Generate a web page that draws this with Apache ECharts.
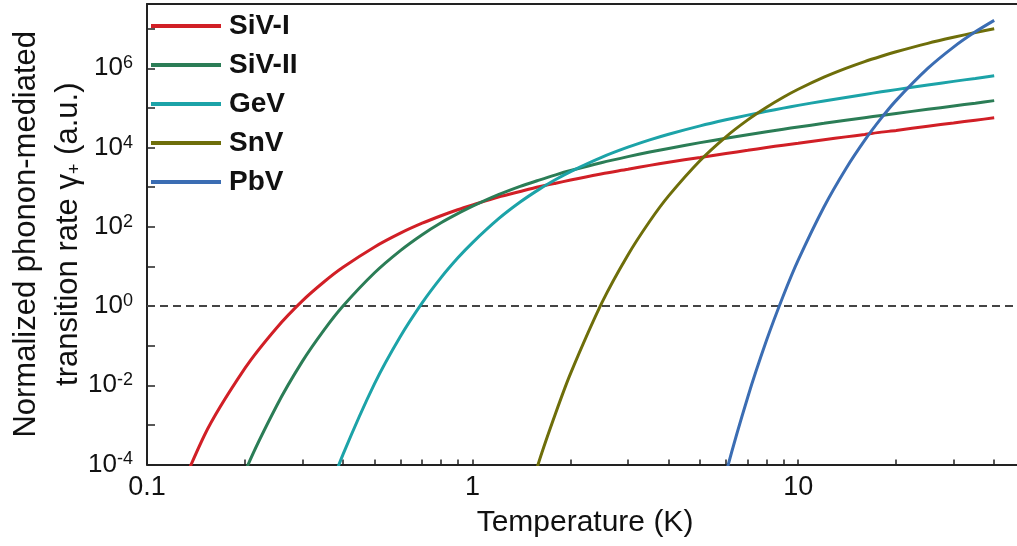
<!DOCTYPE html>
<html>
<head>
<meta charset="utf-8">
<script src="https://cdn.jsdelivr.net/npm/echarts@6/dist/echarts.min.js"></script>
<style>
html,body{margin:0;padding:0;background:#fff;}
#chart{width:1017px;height:546px;}
</style>
</head>
<body>
<div id="chart"></div>
<script>
// Temperature samples (K)
const temps = [0.1, 0.15, 0.2, 0.25, 0.3, 0.35, 0.4, 0.5, 0.6, 0.7, 0.8, 0.9, 1, 1.2, 1.4, 1.6, 1.8, 2, 2.5, 3, 3.5, 4, 5, 6, 7, 8, 9, 10, 12, 14, 16, 18, 20, 25, 30, 35, 40];

// Normalized phonon-mediated transition rates
const sivI = [2.1e-7, 5.4e-4, 0.027, 0.28, 1.35, 4.1, 9.5, 31, 69, 123, 190, 269, 355, 562, 776, 1020, 1260, 1510, 2190, 2820, 3550, 4270, 5620, 7080, 8510, 10000, 11500, 12900, 15800, 18600, 21400, 24500, 26900, 34700, 41700, 49000, 56200];
const sivII = [null, 1.0e-7, 6.5e-5, 3.0e-3, 0.040, 0.25, 1.0, 6.9, 25, 63, 126, 214, 331, 646, 1050, 1510, 2050, 2630, 4200, 5890, 7700, 9500, 13300, 17100, 21000, 25000, 29000, 33000, 40800, 48900, 56800, 64700, 72600, 92300, 112000, 132000, 153000];
const gev = [null, null, null, null, null, 9.8e-6, 1.8e-4, 0.011, 0.17, 1.2, 5.2, 16.2, 40, 158, 421, 880, 1560, 2480, 5740, 10200, 15600, 21700, 35300, 50200, 65900, 82200, 98800, 116000, 150000, 184000, 219000, 255000, 290000, 378000, 468000, 556000, 646000];
const snv = [null, null, null, null, null, null, null, null, null, null, null, null, null, null, 3.0e-6, 1.2e-4, 2.0e-3, 0.020, 1.25, 19.5, 138, 603, 4730, 18700, 49900, 104000, 186000, 296000, 597000, 996000, 1.48e6, 2.02e6, 2.62e6, 4.27e6, 6.07e6, 7.98e6, 9.94e6];
const pbv = [null, null, null, null, null, null, null, null, null, null, null, null, null, null, null, null, null, null, null, null, null, null, 1.2e-7, 6.0e-5, 5.0e-3, 0.138, 1.82, 14.4, 317, 2890, 15200, 55100, 155000, 991000, 3.43e6, 8.32e6, 1.62e7];

const seriesNames = ['SiV-I', 'SiV-II', 'GeV', 'SnV', 'PbV'];
const seriesValues = [sivI, sivII, gev, snv, pbv];
const seriesColors = ['#d11f26', '#2b7d56', '#1ca3a8', '#6e6e0a', '#3b6db3'];

// Axis ticks / labels
const xTickValues = [0.1,0.2,0.3,0.4,0.5,0.6,0.7,0.8,0.9,1,2,3,4,5,6,7,8,9,10,20,30,40];
const xLabelValues = [0.1, 1, 10];
const yTickValues = [1e-4,1e-3,1e-2,1e-1,1,1e1,1e2,1e3,1e4,1e5,1e6,1e7];
const yLabelValues = [1e-4,1e-2,1,1e2,1e4,1e6];
const thresholdValue = 1;

const FONT = "'Liberation Sans', Arial, sans-serif";

const chart = echarts.init(document.getElementById('chart'), null, {renderer: 'canvas'});

const series = seriesNames.map((name, i) => ({
  name: name,
  type: 'line',
  data: temps.map((t, k) => [t, seriesValues[i][k]]),
  showSymbol: false,
  smooth: 0.25,
  clip: true,
  lineStyle: {color: seriesColors[i], width: 3},
  itemStyle: {color: seriesColors[i]},
  z: 3,
  markLine: i === 0 ? {
    silent: true,
    symbol: 'none',
    label: {show: false},
    lineStyle: {type: [8, 5], color: '#444', width: 2},
    data: [{yAxis: thresholdValue}],
    z: 1
  } : undefined
}));

chart.setOption({
  animation: false,
  backgroundColor: '#fff',
  grid: {left: 147, top: 4, right: 0, bottom: 81.5, containLabel: false, outerBoundsMode: 'none'},
  legend: {
    orient: 'vertical',
    left: 151,
    top: 11,
    padding: 0,
    icon: 'rect',
    itemWidth: 70,
    itemHeight: 4,
    itemGap: 9,
    textStyle: {fontFamily: FONT, fontSize: 28, fontWeight: 'bold', color: '#111', lineHeight: 30, padding: [0,0,0,3]},
    data: seriesNames
  },
  xAxis: [{
    type: 'log',
    logBase: 10,
    min: 0.1,
    max: 47,
    position: 'bottom',
    name: 'Temperature (K)',
    nameLocation: 'middle',
    nameGap: 43,
    nameMoveOverlap: false,
    nameTextStyle: {fontFamily: FONT, fontSize: 30, color: '#111', padding: [0, 0, 0, 6]},
    axisLine: {show: true, lineStyle: {color: '#222', width: 2}},
    axisTick: {show: true, inside: true, length: 5, customValues: xTickValues, lineStyle: {color: '#222', width: 1.5}},
    axisLabel: {show: true, customValues: xLabelValues, margin: 10, fontFamily: FONT, fontSize: 27, color: '#111',
      formatter: v => (v < 1 ? String(Math.round(v * 10) / 10) : String(Math.round(v)))},
    splitLine: {show: false},
    minorTick: {show: false}
  }, {
    type: 'log',
    logBase: 10,
    min: 0.1,
    max: 47,
    position: 'top',
    axisLine: {show: true, lineStyle: {color: '#222', width: 2}},
    axisTick: {show: false},
    axisLabel: {show: false},
    splitLine: {show: false}
  }],
  yAxis: {
    type: 'log',
    logBase: 10,
    min: 1e-4,
    max: 4.2e7,
    name: 'Normalized phonon-mediated\ntransition rate {g|γ}{sub|+} (a.u.)',
    nameLocation: 'middle',
    nameRotate: 90,
    nameGap: 58,
    nameMoveOverlap: false,
    nameTextStyle: {
      fontFamily: FONT, fontSize: 31, color: '#111', lineHeight: 42,
      rich: {
        g: {fontFamily: FONT, fontSize: 31, color: '#111', lineHeight: 42},
        sub: {fontFamily: FONT, fontSize: 18, color: '#111', lineHeight: 42, padding: [14, 0, 0, 0]}
      }
    },
    axisLine: {show: true, lineStyle: {color: '#222', width: 2}},
    axisTick: {show: true, inside: true, length: 8, customValues: yTickValues, lineStyle: {color: '#222', width: 1.5}},
    axisLabel: {
      show: true,
      customValues: yLabelValues,
      margin: 14,
      formatter: v => '{b|10}{s|' + Math.round(Math.log10(v)) + '}',
      rich: {
        b: {fontFamily: FONT, fontSize: 26, color: '#111', lineHeight: 28},
        s: {fontFamily: FONT, fontSize: 18, color: '#111', lineHeight: 28, verticalAlign: 'top', padding: [0, 0, 12, 0]}
      }
    },
    splitLine: {show: false},
    minorTick: {show: false}
  },
  series: series
});
</script>
</body>
</html>
